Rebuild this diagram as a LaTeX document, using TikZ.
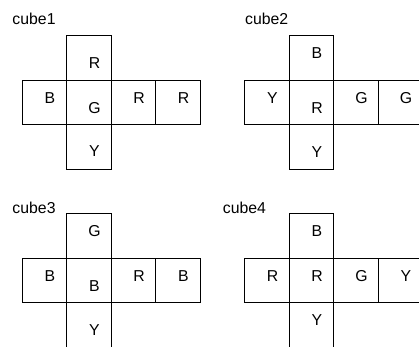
\documentclass[tikz,border=0pt]{standalone}
\usepackage{fontspec}
\setmainfont{Liberation Sans}
\usetikzlibrary{calc}
\tikzset{
  sq/.style={draw=black, line width=0.8pt, minimum size=44.5pt, inner sep=0pt, outer sep=0pt},
  lab/.style={inner sep=0pt, font=\fontsize{15.8}{18}\selectfont},
  ttl/.style={inner sep=0pt, anchor=base west, font=\fontsize{15.8}{18}\selectfont}
}
% \cubenet{prefix}{cx}{cy}{top}{topdy}{left}{center}{centerdy}{{r1}{r2}{bottom}{bottomdy}}
\newcommand{\cubenet}[9]{%
  \node[sq] (#1c) at (#2,#3) {};
  \node[sq] (#1t) at (#2,#3-44.5) {};
  \node[sq] (#1b) at (#2,#3+44.5) {};
  \node[sq] (#1l) at (#2-44.5,#3) {};
  \node[sq] (#1r) at (#2+44.5,#3) {};
  \node[sq] (#1s) at (#2+89,#3) {};
  \node[lab] (#1tL) at ($(#1t)+(5.5,#5)$) {#4};
  \node[lab] (#1lL) at ($(#1l)+(5.5,-4.5)$) {#6};
  \node[lab] (#1cL) at ($(#1c)+(5.5,#8)$) {#7};
  \cubenetrest{#1}#9%
}
\newcommand{\cubenetrest}[5]{%
  \node[lab] (#1rL) at ($(#1r)+(5.5,-4.5)$) {#2};
  \node[lab] (#1sL) at ($(#1s)+(5.5,-4.5)$) {#3};
  \node[lab] (#1bL) at ($(#1b)+(5.5,#5)$) {#4};
}
\begin{document}
\begin{tikzpicture}[x=1pt, y=-1pt]
  \useasboundingbox (0,0) rectangle (419,346);
  \clip (0,0) rectangle (419,346);
  \node[ttl] (t1) at (12.3,24.3) {cube1};
  \node[ttl] (t2) at (245,24.8) {cube2};
  \node[ttl] (t3) at (12.3,213.3) {cube3};
  \node[ttl] (t4) at (222.7,213.3) {cube4};
  \cubenet{a}{89}{102.5}{R}{5.5}{B}{G}{5.5}{{R}{R}{Y}{4.5}}
  \cubenet{b}{311.5}{102.5}{B}{-4.5}{Y}{R}{5.5}{{G}{G}{Y}{5.5}}
  \cubenet{c}{89}{280.5}{G}{-4.5}{B}{B}{5.5}{{R}{B}{Y}{5}}
  \cubenet{d}{311.5}{280.5}{B}{-4.5}{R}{R}{-4.5}{{G}{Y}{Y}{-4.5}}
\end{tikzpicture}
\end{document}
